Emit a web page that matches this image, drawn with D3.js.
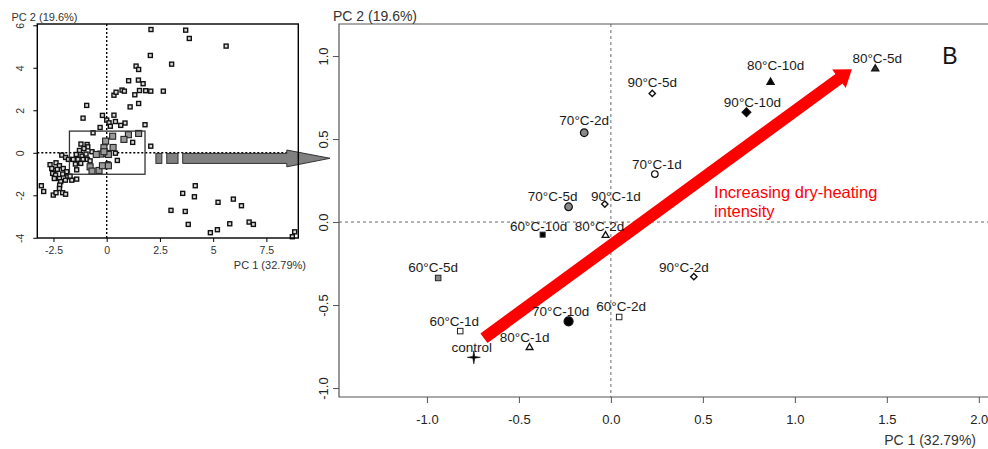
<!DOCTYPE html>
<html>
<head>
<meta charset="utf-8">
<script src="https://cdn.jsdelivr.net/npm/d3@7"></script>
<style>
  body { margin: 0; background: #fff; }
  svg { display: block; font-family: "Liberation Sans", Arial, sans-serif; }
</style>
</head>
<body>
<div id="chart"></div>
<script>
// ---- main PCA plot (panel B) ----
const sampleNames = ['control', '60°C-1d', '60°C-2d', '60°C-5d', '60°C-10d',
  '70°C-1d', '70°C-2d', '70°C-5d', '70°C-10d',
  '80°C-1d', '80°C-2d', '80°C-5d', '80°C-10d',
  '90°C-1d', '90°C-2d', '90°C-5d', '90°C-10d'];
const pc1 = [-0.745, -0.819, 0.045, -0.939, -0.371,
  0.239, -0.145, -0.23, -0.23,
  -0.442, -0.029, 1.437, 0.868,
  -0.033, 0.451, 0.225, 0.737];
const pc2 = [-0.815, -0.657, -0.572, -0.337, -0.076,
  0.289, 0.538, 0.092, -0.598,
  -0.753, -0.078, 0.926, 0.845,
  0.108, -0.329, 0.775, 0.661];
const xTicks = [-1, -0.5, 0, 0.5, 1, 1.5, 2];
const yTicks = [-1, -0.5, 0, 0.5, 1];
const trendFrom = [-0.69, -0.70];
const trendTo = [1.31, 0.92];

// ---- inset: all variables ----
const allX = [2.08, 3.71, 3.88, 5.61, 2.05, 3.05, 1.38, 1.50, 1.03, 1.49, 1.71, 0.72, 0.83, 0.34, 0.44, 1.32, 1.54, 1.83, 2.07, 2.66,
  1.50, 1.10, -0.94, -1.11, -0.20, 0.34, 0.0, 0.11, 0.41, -0.31, 0.17, 0.86, 0.66, 1.80, 2.07, -0.64,
  1.22, -1.21, -0.92, -0.89, -1.07, -1.28, -0.69, -1.43, -1.16, -0.97, -1.35, -1.11, -1.47, -1.22, -1.41, 0.41, 0.06, 0.50, -1.57, -0.91, -0.78,
  -2.11, -1.93, -1.80, -2.66, -2.38, -2.22, -2.47, -2.32, -2.04, -2.54, -1.88, -2.07, -2.40, -2.22, -1.83, -1.94, -2.16, -2.46, -1.64, -1.41,
  -2.21, -2.22, -3.07, -2.96, -2.51, -2.38, -2.07, -1.93, -1.72, -2.58,
  4.16, 3.57, 4.12, 5.23, 5.95, 6.33, 3.02, 3.69, 3.83, 5.78, 6.69, 6.89, 5.20, 4.87, 8.83, 8.72];
const allY = [5.80, 5.77, 5.38, 5.02, 4.58, 4.17, 4.08, 3.92, 3.39, 3.42, 3.25, 2.95, 2.90, 2.71, 2.85, 2.73, 2.93, 2.92, 2.90, 2.90,
  2.32, 2.16, 2.23, 1.63, 1.76, 1.77, 1.54, 1.41, 1.47, 1.19, 1.25, 1.40, 1.29, 1.32, 0.31, 0.94,
  0.49, 0.41, 0.39, 0.28, 0.20, 0.11, 0.05, -0.08, -0.16, -0.06, -0.31, -0.31, -0.53, -0.50, -0.80, -0.02, -0.52, -0.36, -0.31, -0.31, -0.38,
  -0.11, -0.22, -0.31, -0.56, -0.47, -0.61, -0.82, -0.78, -0.74, -0.97, -0.89, -1.00, -1.05, -1.21, -1.13, -1.29, -1.36, -1.21, -1.29, -1.24,
  -1.52, -1.68, -1.55, -1.82, -1.99, -1.88, -1.88, -1.95, -1.10, -0.74,
  -1.55, -1.91, -2.07, -2.33, -2.18, -2.49, -2.71, -2.76, -3.37, -3.34, -3.26, -3.37, -3.62, -3.76, -3.72, -3.95];
const boxedX = [0.28, 1.02, 1.50, 0.81, -0.05, 0.30, -0.13, -0.78, -0.69, -0.36, -0.02, -0.28, 0.08, -0.13, -0.20, 0.08, -0.49];
const boxedY = [0.78, 0.85, 0.91, 0.63, 0.55, 0.25, 0.24, -0.66, -0.86, -0.83, -0.03, -0.06, -0.08, 0.05, -0.61, -0.61, -0.08];
const insetXTicks = [-2.5, 0, 2.5, 5, 7.5];
const insetYTicks = [-4, -2, 0, 2, 4, 6];
const zoomBoxX = [-1.75, 1.8];
const zoomBoxY = [-1.01, 1.02];

const svg = d3.select('#chart')
  .append('svg')
  .attr('width', 988)
  .attr('height', 449);

// ================= inset =================
const ix = d3.scaleLinear().domain([-3.26, 9.0]).range([37.3, 298.3]);
const iy = d3.scaleLinear().domain([-4.01, 6.06]).range([238, 24]);

const inset = svg.append('g').attr('class', 'inset');

inset.append('line')
  .attr('x1', ix(0)).attr('x2', ix(0)).attr('y1', iy.range()[1]).attr('y2', iy.range()[0])
  .attr('stroke', '#000').attr('stroke-width', 1.4).attr('stroke-dasharray', '2,2');
inset.append('line')
  .attr('x1', ix.range()[0]).attr('x2', ix.range()[1]).attr('y1', iy(0)).attr('y2', iy(0))
  .attr('stroke', '#000').attr('stroke-width', 1.4).attr('stroke-dasharray', '2,2');

inset.append('g')
  .selectAll('rect')
  .data(allX.map((v, i) => [v, allY[i]]))
  .enter().append('rect')
  .attr('x', d => ix(d[0]) - 2)
  .attr('y', d => iy(d[1]) - 2)
  .attr('width', 4).attr('height', 4)
  .attr('fill', '#d8d8d8').attr('stroke', '#111').attr('stroke-width', 1.4);

inset.append('g')
  .selectAll('rect')
  .data(boxedX.map((v, i) => [v, boxedY[i]]))
  .enter().append('rect')
  .attr('x', d => ix(d[0]) - 3)
  .attr('y', d => iy(d[1]) - 3)
  .attr('width', 6).attr('height', 6)
  .attr('fill', '#9a9a9a').attr('stroke', '#222').attr('stroke-width', 1.1);

// zoom box
inset.append('rect')
  .attr('x', ix(zoomBoxX[0])).attr('y', iy(zoomBoxY[1]))
  .attr('width', ix(zoomBoxX[1]) - ix(zoomBoxX[0]))
  .attr('height', iy(zoomBoxY[0]) - iy(zoomBoxY[1]))
  .attr('fill', 'none').attr('stroke', '#333').attr('stroke-width', 1.3);

// gray arrow pointing to panel B
const gTop = iy(-0.03), gBot = iy(-0.50);
[[2.31, 2.59], [2.82, 3.35]].forEach(s => {
  inset.append('rect')
    .attr('x', ix(s[0])).attr('y', gTop)
    .attr('width', ix(s[1]) - ix(s[0])).attr('height', gBot - gTop)
    .attr('fill', '#808080').attr('stroke', '#333').attr('stroke-width', 1);
});
inset.append('path')
  .attr('d', d3.line()([
    [ix(3.57), gTop], [ix(8.46), gTop], [ix(8.46), iy(0.13)], [ix(10.49), iy(-0.26)],
    [ix(8.46), iy(-0.66)], [ix(8.46), gBot], [ix(3.57), gBot]
  ]) + 'Z')
  .attr('fill', '#808080').attr('stroke', '#333').attr('stroke-width', 1);

inset.append('rect')
  .attr('x', ix.range()[0]).attr('y', iy.range()[1])
  .attr('width', ix.range()[1] - ix.range()[0])
  .attr('height', iy.range()[0] - iy.range()[1])
  .attr('fill', 'none').attr('stroke', '#000').attr('stroke-width', 1.4);

const ixAxis = inset.append('g')
  .attr('transform', `translate(0,${iy.range()[0]})`)
  .call(d3.axisBottom(ix).tickValues(insetXTicks).tickFormat(d => String(d)).tickSize(4).tickPadding(5).tickSizeOuter(0));
ixAxis.select('.domain').remove();
ixAxis.selectAll('text').attr('font-size', 10.5).attr('fill', '#333').attr('font-family', null);

const iyAxis = inset.append('g')
  .attr('transform', `translate(${ix.range()[0]},0)`)
  .call(d3.axisLeft(iy).tickValues(insetYTicks).tickFormat(d => String(d)).tickSize(4).tickSizeOuter(0));
iyAxis.select('.domain').remove();
iyAxis.selectAll('text')
  .attr('x', null).attr('dy', null)
  .attr('transform', 'translate(-13,0) rotate(-90)')
  .attr('text-anchor', 'middle')
  .attr('font-size', 10.5).attr('fill', '#333').attr('font-family', null);

inset.append('text')
  .attr('x', 11.5).attr('y', 20.5)
  .attr('font-size', 11).attr('fill', '#333')
  .text('PC 2 (19.6%)');
inset.append('text')
  .attr('x', 306).attr('y', 268.5)
  .attr('text-anchor', 'end')
  .attr('font-size', 11).attr('fill', '#333')
  .text('PC 1 (32.79%)');

// ================= main panel =================
const x = d3.scaleLinear().domain([-1.478, 2.05]).range([339, 988]);
const y = d3.scaleLinear().domain([-1.054, 1.193]).range([397, 24]);

const main = svg.append('g').attr('class', 'main');

main.append('line')
  .attr('x1', x(0)).attr('x2', x(0)).attr('y1', y.range()[1]).attr('y2', y.range()[0])
  .attr('stroke', '#444').attr('stroke-width', 0.8).attr('stroke-dasharray', '3,3');
main.append('line')
  .attr('x1', x.range()[0]).attr('x2', x.range()[1]).attr('y1', y(0)).attr('y2', y(0))
  .attr('stroke', '#444').attr('stroke-width', 0.8).attr('stroke-dasharray', '3,3');

main.append('path')
  .attr('d', `M${x.range()[1] + 2},${y.range()[1]}H${x.range()[0]}V${y.range()[0]}H${x.range()[1] + 2}`)
  .attr('fill', 'none').attr('stroke', '#555').attr('stroke-width', 1.2);

const xAxis = main.append('g')
  .attr('transform', `translate(0,${y.range()[0]})`)
  .call(d3.axisBottom(x).tickValues(xTicks).tickFormat(d => d.toFixed(1)).tickSize(6).tickPadding(12).tickSizeOuter(0));
xAxis.select('.domain').remove();
xAxis.selectAll('line').attr('stroke', '#555');
xAxis.selectAll('text').attr('font-size', 13).attr('fill', '#222').attr('font-family', null);

const yAxis = main.append('g')
  .attr('transform', `translate(${x.range()[0]},0)`)
  .call(d3.axisLeft(y).tickValues(yTicks).tickFormat(d => d.toFixed(1)).tickSize(6).tickSizeOuter(0));
yAxis.select('.domain').remove();
yAxis.selectAll('line').attr('stroke', '#555');
yAxis.selectAll('text')
  .attr('x', null).attr('dy', null)
  .attr('transform', 'translate(-11.5,0) rotate(-90)')
  .attr('text-anchor', 'middle')
  .attr('font-size', 13).attr('fill', '#222').attr('font-family', null);

main.append('text')
  .attr('x', 333).attr('y', 21)
  .attr('font-size', 14).attr('fill', '#333')
  .text('PC 2 (19.6%)');
main.append('text')
  .attr('x', 976).attr('y', 444.5)
  .attr('text-anchor', 'end')
  .attr('font-size', 14).attr('fill', '#333')
  .text('PC 1 (32.79%)');

// red trend arrow
(function drawTrend() {
  const p0 = [x(trendFrom[0]), y(trendFrom[1])];
  const p1 = [x(trendTo[0]), y(trendTo[1])];
  const len = Math.hypot(p1[0] - p0[0], p1[1] - p0[1]);
  const u = [(p1[0] - p0[0]) / len, (p1[1] - p0[1]) / len];
  const n = [-u[1], u[0]];
  const shaft = 6, head = 11.5, headLen = 16;
  const b = [p1[0] - u[0] * headLen, p1[1] - u[1] * headLen];
  const pts = [
    [p0[0] + n[0] * shaft, p0[1] + n[1] * shaft],
    [b[0] + n[0] * shaft, b[1] + n[1] * shaft],
    [b[0] + n[0] * head, b[1] + n[1] * head],
    p1,
    [b[0] - n[0] * head, b[1] - n[1] * head],
    [b[0] - n[0] * shaft, b[1] - n[1] * shaft],
    [p0[0] - n[0] * shaft, p0[1] - n[1] * shaft]
  ];
  main.append('path')
    .attr('d', d3.line()(pts) + 'Z')
    .attr('fill', '#ff0000');
})();

main.append('text')
  .attr('x', x(0.561)).attr('y', y(0.145))
  .attr('font-size', 16.5).attr('fill', '#ff0000')
  .call(t => {
    t.append('tspan').attr('x', x(0.561)).text('Increasing dry-heating');
    t.append('tspan').attr('x', x(0.561)).attr('dy', 18.7).text('intensity');
  });

main.append('text')
  .attr('x', 950).attr('y', 63.5)
  .attr('text-anchor', 'middle')
  .attr('font-size', 23).attr('fill', '#111')
  .text('B');

// marker styles per sample
const markerStyle = {
  'control': { shape: 'star', fill: '#000' },
  '60°C-1d': { shape: 'square', size: 5.5, fill: '#fff' },
  '60°C-2d': { shape: 'square', size: 5.5, fill: '#fff' },
  '60°C-5d': { shape: 'square', size: 5.5, fill: '#8a8a8a' },
  '60°C-10d': { shape: 'square', size: 5, fill: '#000' },
  '70°C-1d': { shape: 'circle', size: 3.3, fill: '#fff' },
  '70°C-2d': { shape: 'circle', size: 3.8, fill: '#8a8a8a' },
  '70°C-5d': { shape: 'circle', size: 3.8, fill: '#8a8a8a' },
  '70°C-10d': { shape: 'circle', size: 4.5, fill: '#000' },
  '80°C-1d': { shape: 'triangle', size: 20, fill: '#fff' },
  '80°C-2d': { shape: 'triangle', size: 20, fill: '#fff' },
  '80°C-5d': { shape: 'triangle', size: 22, fill: '#333' },
  '80°C-10d': { shape: 'triangle', size: 22, fill: '#000' },
  '90°C-1d': { shape: 'diamond', size: 20, fill: '#fff' },
  '90°C-2d': { shape: 'diamond', size: 20, fill: '#fff' },
  '90°C-5d': { shape: 'diamond', size: 20, fill: '#fff' },
  '90°C-10d': { shape: 'diamond', size: 36, fill: '#000' }
};
// hand-placed label offsets (px) as in the original figure
const labelNudge = {
  '60°C-1d': [-6, 0], '60°C-5d': [-5, 0], '60°C-10d': [-4, 2], '60°C-2d': [2, 0],
  '80°C-1d': [-5, 0], '70°C-10d': [-8, 0], '80°C-2d': [-6, 2], '90°C-2d': [-10, 1],
  '70°C-5d': [-16, 0], '90°C-1d': [11, 2], '90°C-10d': [6, 0], '80°C-10d': [5, -6],
  '70°C-2d': [0, -2], '90°C-5d': [0, -1], 'control': [-2, 0], '70°C-1d': [2, 0], '80°C-5d': [2, 0]
};

const starPath = (r, ri) => {
  const pts = [];
  for (let k = 0; k < 8; k++) {
    const a = k * Math.PI / 4 - Math.PI / 2;
    const rr = k % 2 === 0 ? r : ri;
    pts.push([Math.cos(a) * rr, Math.sin(a) * rr]);
  }
  return d3.line()(pts) + 'Z';
};

const samples = sampleNames.map((name, i) => ({ name, x: pc1[i], y: pc2[i] }));

const pts = main.append('g')
  .selectAll('g')
  .data(samples)
  .enter().append('g')
  .attr('transform', d => `translate(${x(d.x)},${y(d.y)})`);

pts.each(function (d) {
  const s = markerStyle[d.name];
  const g = d3.select(this);
  if (s.shape === 'circle') {
    g.append('circle').attr('r', s.size)
      .attr('fill', s.fill).attr('stroke', '#111').attr('stroke-width', 1.2);
  } else if (s.shape === 'square') {
    g.append('rect').attr('x', -s.size / 2).attr('y', -s.size / 2)
      .attr('width', s.size).attr('height', s.size)
      .attr('fill', s.fill).attr('stroke', '#222').attr('stroke-width', 1);
  } else if (s.shape === 'triangle') {
    g.append('path').attr('d', d3.symbol(d3.symbolTriangle, s.size)())
      .attr('transform', 'translate(0,0.5)')
      .attr('fill', s.fill).attr('stroke', '#111').attr('stroke-width', 1.3);
  } else if (s.shape === 'diamond') {
    g.append('path').attr('d', d3.symbol(d3.symbolSquare, s.size)())
      .attr('transform', 'rotate(45)')
      .attr('fill', s.fill).attr('stroke', '#111').attr('stroke-width', 1.4);
  } else {
    g.append('path').attr('d', starPath(6.5, 1.3)).attr('fill', s.fill)
      .attr('stroke', '#000').attr('stroke-width', 0.6);
  }
});

main.append('g')
  .selectAll('text')
  .data(samples)
  .enter().append('text')
  .attr('x', d => x(d.x) + (labelNudge[d.name] || [0, 0])[0])
  .attr('y', d => y(d.y) - 5.5 + (labelNudge[d.name] || [0, 0])[1])
  .attr('text-anchor', 'middle')
  .attr('font-size', 13.5).attr('fill', '#1a1a1a')
  .text(d => d.name);
</script>
</body>
</html>
